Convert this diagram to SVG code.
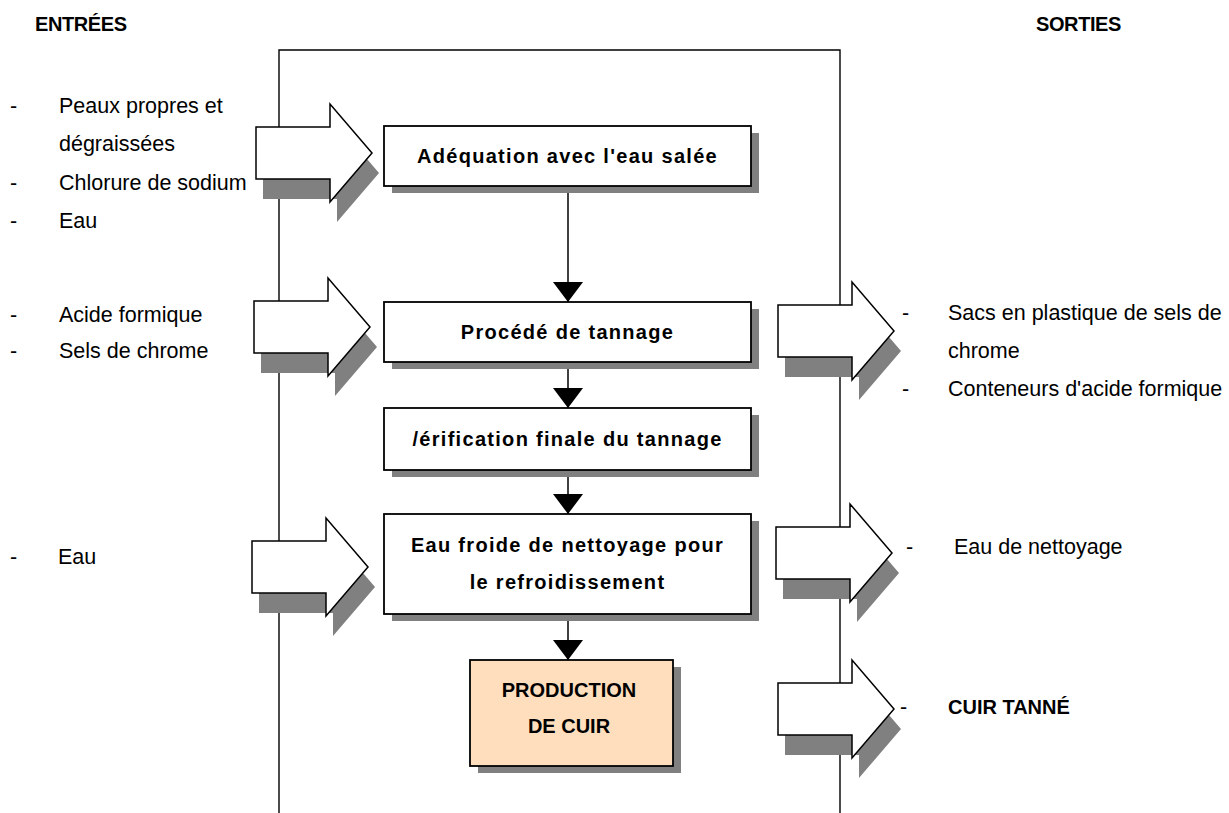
<svg xmlns="http://www.w3.org/2000/svg" xmlns:xlink="http://www.w3.org/1999/xlink" width="1229" height="813" viewBox="0 0 1229 813">
<style>
  .frame { fill: none; stroke: #000; stroke-width: 1.4; }
  .shadow { fill: #808080; stroke: none; }
  .box { fill: #fff; stroke: #000; stroke-width: 1.8; }
  .prod { fill: #FFDEBD; stroke: #000; stroke-width: 1.8; }
  .blk { fill: #fff; stroke: #000; stroke-width: 1.5; stroke-linejoin: miter; }
  .conn { fill: none; stroke: #000; stroke-width: 1.5; }
  .t { font-family: "Liberation Sans", Arial, sans-serif; font-size: 21.5px; fill: #000; }
  .h { font-family: "Liberation Sans", Arial, sans-serif; font-size: 20px; font-weight: bold; letter-spacing: -0.4px; fill: #000; }
  .ho { font-family: "Liberation Sans", Arial, sans-serif; font-size: 20px; font-weight: bold; fill: #000; }
  .bt { font-family: "Liberation Sans", Arial, sans-serif; font-size: 20px; font-weight: bold; letter-spacing: 1.3px; fill: #000; text-anchor: middle; }
  .pt { font-family: "Liberation Sans", Arial, sans-serif; font-size: 20px; font-weight: bold; fill: #000; text-anchor: middle; }
</style>
<defs>
  <path id="blkarrow" d="M0,23 H74 V0 L116,49 L74,98 V75 H0 Z"/>
  <marker id="tri" viewBox="0 0 20 30" refX="20" refY="15" markerWidth="20" markerHeight="30" orient="auto" markerUnits="userSpaceOnUse">
    <path d="M0,0 L20,15 L0,30 Z" fill="#000"/>
  </marker>
</defs>

<rect width="1229" height="813" fill="#fff"/>

<g id="frame">
  <path class="frame" d="M279,813 V50 H840 V813"/>
</g>

<g id="headers">
  <text class="h" x="35" y="31">ENTRÉES</text>
  <text class="h" x="1036" y="31">SORTIES</text>
</g>

<g id="input-arrows">
  <g id="in1">
    <use xlink:href="#blkarrow" href="#blkarrow" class="shadow" x="263" y="124"/>
    <use xlink:href="#blkarrow" href="#blkarrow" class="blk" x="256" y="104"/>
  </g>
  <g id="in2">
    <use xlink:href="#blkarrow" href="#blkarrow" class="shadow" x="261" y="298"/>
    <use xlink:href="#blkarrow" href="#blkarrow" class="blk" x="254" y="278"/>
  </g>
  <g id="in3">
    <use xlink:href="#blkarrow" href="#blkarrow" class="shadow" x="259" y="538"/>
    <use xlink:href="#blkarrow" href="#blkarrow" class="blk" x="252" y="518"/>
  </g>
</g>

<g id="output-arrows">
  <g id="out1">
    <use xlink:href="#blkarrow" href="#blkarrow" class="shadow" x="785" y="302"/>
    <use xlink:href="#blkarrow" href="#blkarrow" class="blk" x="778" y="282"/>
  </g>
  <g id="out2">
    <use xlink:href="#blkarrow" href="#blkarrow" class="shadow" x="783" y="524"/>
    <use xlink:href="#blkarrow" href="#blkarrow" class="blk" x="776" y="504"/>
  </g>
  <g id="out3">
    <use xlink:href="#blkarrow" href="#blkarrow" class="shadow" x="785" y="680"/>
    <use xlink:href="#blkarrow" href="#blkarrow" class="blk" x="778" y="660"/>
  </g>
</g>

<g id="connectors">
  <line class="conn" x1="568" y1="186" x2="568" y2="302" marker-end="url(#tri)"/>
  <line class="conn" x1="568" y1="362" x2="568" y2="408" marker-end="url(#tri)"/>
  <line class="conn" x1="568" y1="470" x2="568" y2="514" marker-end="url(#tri)"/>
  <line class="conn" x1="568" y1="614" x2="568" y2="660" marker-end="url(#tri)"/>
</g>

<g id="step1">
  <rect class="shadow" x="392" y="133" width="367" height="60"/>
  <rect class="box" x="384" y="126" width="367" height="60"/>
  <text class="bt" x="567.5" y="163">Adéquation avec l'eau salée</text>
</g>

<g id="step2">
  <rect class="shadow" x="392" y="309" width="367" height="60"/>
  <rect class="box" x="384" y="302" width="367" height="60"/>
  <text class="bt" x="567.5" y="339">Procédé de tannage</text>
</g>

<g id="step3">
  <rect class="shadow" x="392" y="415" width="367" height="62"/>
  <rect class="box" x="384" y="408" width="367" height="62"/>
  <text class="bt" x="567.5" y="446">/érification finale du tannage</text>
</g>

<g id="step4">
  <rect class="shadow" x="392" y="521" width="367" height="100"/>
  <rect class="box" x="384" y="514" width="367" height="100"/>
  <text class="bt" x="567.5" y="552">Eau froide de nettoyage pour</text>
  <text class="bt" x="567.5" y="589">le refroidissement</text>
</g>

<g id="production">
  <rect class="shadow" x="478" y="667" width="203" height="106"/>
  <rect class="prod" x="470" y="660" width="203" height="106"/>
  <text class="pt" x="569" y="697">PRODUCTION</text>
  <text class="pt" x="569" y="733">DE CUIR</text>
</g>

<g id="inputs1">
  <text class="t" x="10" y="113">-</text>
  <text class="t" x="59" y="113">Peaux propres et</text>
  <text class="t" x="59" y="151">dégraissées</text>
  <text class="t" x="10" y="190">-</text>
  <text class="t" x="59" y="190">Chlorure de sodium</text>
  <text class="t" x="10" y="228">-</text>
  <text class="t" x="59" y="228">Eau</text>
</g>

<g id="inputs2">
  <text class="t" x="10" y="322">-</text>
  <text class="t" x="59" y="322">Acide formique</text>
  <text class="t" x="10" y="358">-</text>
  <text class="t" x="59" y="358">Sels de chrome</text>
</g>

<g id="inputs3">
  <text class="t" x="10" y="564">-</text>
  <text class="t" x="58" y="564">Eau</text>
</g>

<g id="outputs1">
  <text class="t" x="902" y="320">-</text>
  <text class="t" x="948" y="320">Sacs en plastique de sels de</text>
  <text class="t" x="948" y="358">chrome</text>
  <text class="t" x="902" y="396">-</text>
  <text class="t" x="948" y="396">Conteneurs d'acide formique</text>
</g>

<g id="outputs2">
  <text class="t" x="906" y="554">-</text>
  <text class="t" x="954" y="554">Eau de nettoyage</text>
</g>

<g id="outputs3">
  <text class="t" x="900" y="714">-</text>
  <text class="ho" x="948" y="714">CUIR TANNÉ</text>
</g>
</svg>
